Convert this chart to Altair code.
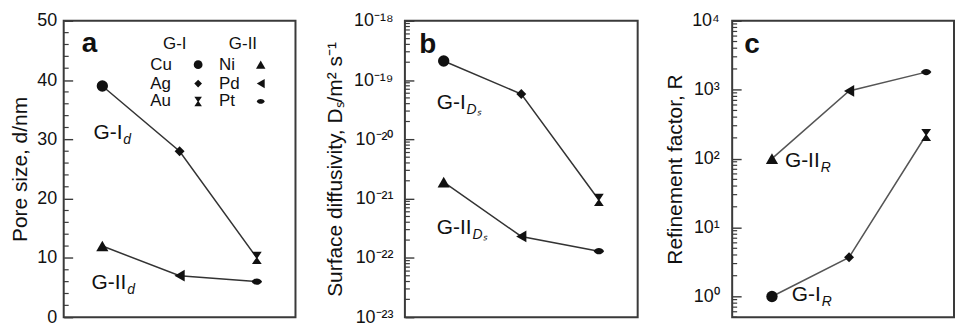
import altair as alt
import pandas as pd

# ---------------- data ----------------
positions = [1, 2, 3]
metals_I = ["Cu", "Ag", "Au"]
metals_II = ["Ni", "Pd", "Pt"]
pore_I = [39, 28, 10]
pore_II = [12, 7, 6]
diff_I = [2.1e-19, 5.8e-20, 9.5e-22]
diff_II = [1.9e-21, 2.3e-22, 1.3e-22]
ref_I = [1.0, 3.7, 220]
ref_II = [100, 960, 1800]

# ---------------- style ----------------
FONT = "Liberation Sans"
INK = "#111111"
FRAME = "#3a3a3a"
HOURGLASS = "M-0.8,-1L0.8,-1L0.12,0L0.8,1L-0.8,1L-0.12,0Z"
LENS = "M-1,0C-0.55,-0.8,0.55,-0.8,1,0C0.55,0.8,-0.55,0.8,-1,0Z"
SHAPES = {"Cu": "circle", "Ag": "diamond", "Au": HOURGLASS,
          "Ni": "triangle-up", "Pd": "triangle-left", "Pt": LENS}
SIZES = {"Cu": 130, "Ag": 100, "Au": 150, "Ni": 150, "Pd": 140, "Pt": 110}
LEGEND_SCALE = 0.6
PANEL_H = 298
MAJOR_LEN = 9

shape_domain = list(SHAPES.keys())
shape_range = list(SHAPES.values())


def sup(n):
    return str(n).translate(str.maketrans("-0123456789", "⁻⁰¹²³⁴⁵⁶⁷⁸⁹"))


def log_label_expr(exps):
    parts = [f"abs(log(datum.value)/LN10 - ({e})) < 0.01 ? '10{sup(e)}'" for e in exps]
    return " : ".join(parts) + " : ''"


def y_axis(title, values, label_pad, title_pad, label_expr=None):
    # the axis line sits MAJOR_LEN px inside the frame, so its outward ticks
    # reach exactly back to the frame: inward-looking major ticks
    kw = dict(values=values, ticks=True, tickSize=MAJOR_LEN, tickColor=FRAME, tickWidth=1.4,
              offset=-MAJOR_LEN, domain=False, grid=False,
              labelFont=FONT, labelFontSize=18, labelColor=INK, labelPadding=label_pad,
              title=title, titleFont=FONT, titleFontSize=21, titleFontWeight="normal",
              titleColor=INK, titlePadding=title_pad)
    if label_expr:
        kw["labelExpr"] = label_expr
    return alt.Axis(**kw)


def text(xs, ys, yax, x, y, t, **style):
    df = pd.DataFrame({"x": [x], "y": [y], "label": [t]})
    base = dict(font=FONT, color=INK, baseline="middle")
    base.update(style)
    return alt.Chart(df).mark_text(**base).encode(
        x=alt.X("x:Q", scale=xs, axis=None),
        y=alt.Y("y:Q", scale=ys, axis=yax),
        text="label:N")


def minor_ticks(vals, ys, yax):
    df = pd.DataFrame({"tickval": vals})
    return alt.Chart(df).mark_rule(color=FRAME, strokeWidth=1.2).encode(
        x=alt.value(0), x2=alt.value(5),
        y=alt.Y("tickval:Q", scale=ys, axis=yax))


def panel(vals_I, vals_II, ys, axis, minor, xdomain, width, line_color, annots):
    xs = alt.Scale(domain=xdomain, nice=False, zero=False)
    df = pd.DataFrame({
        "pos": positions * 2,
        "val": list(vals_I) + list(vals_II),
        "metal": metals_I + metals_II,
        "group": ["G-I"] * 3 + ["G-II"] * 3,
    })
    df["sz"] = df["metal"].map(SIZES)
    x = alt.X("pos:Q", scale=xs, axis=None)
    lines = alt.Chart(df).mark_line(color=line_color, strokeWidth=1.5).encode(
        x=x, y=alt.Y("val:Q", scale=ys, axis=axis), detail="group:N")
    pts = alt.Chart(df).mark_point(filled=True, color=INK, opacity=1).encode(
        x=x, y=alt.Y("val:Q", scale=ys, axis=axis),
        shape=alt.Shape("metal:N", scale=alt.Scale(domain=shape_domain, range=shape_range), legend=None),
        size=alt.Size("sz:Q", scale=None))
    layers = [lines, minor_ticks(minor, ys, axis), pts]
    for a in annots:
        layers.append(a(xs, ys, axis))
    return alt.layer(*layers).properties(width=width, height=PANEL_H)


def ann(x, y, t, **style):
    return lambda xs, ys, yax: text(xs, ys, yax, x, y, t, **style)


def legend_sym(x, y, metal):
    def f(xs, ys, yax):
        df = pd.DataFrame({"x": [x], "y": [y], "metal": [metal]})
        return alt.Chart(df).mark_point(filled=True, color=INK, opacity=1,
                                        size=SIZES[metal] * LEGEND_SCALE).encode(
            x=alt.X("x:Q", scale=xs, axis=None),
            y=alt.Y("y:Q", scale=ys, axis=yax),
            shape=alt.Shape("metal:N", scale=alt.Scale(domain=shape_domain, range=shape_range), legend=None))
    return f


MAIN = dict(fontSize=21, align="left")
SUB = dict(fontSize=14, fontStyle="italic", align="left", dy=7)
LETTER = dict(fontSize=28, fontWeight="bold", align="center")
LEG = dict(fontSize=17, align="left")
HEAD = dict(fontSize=17, align="center")

# ---------------- panel a ----------------
ys_a = alt.Scale(domain=[0, 50], nice=False, zero=False)
axis_a = y_axis("Pore size, d/nm", [0, 10, 20, 30, 40, 50], 7, 6)
minor_a = [v for v in range(2, 50, 2) if v % 10]
leg_rows = [42.6, 39.4, 36.4]
annots_a = [
    ann(0.835, 46.0, "a", **LETTER),
    ann(1.938, 46.0, "G-I", **HEAD),
    ann(2.82, 46.0, "G-II", **HEAD),
    ann(0.886, 31.0, "G-I", **MAIN), ann(0.886, 31.0, "d", dx=30, **SUB),
    ann(0.86, 5.7, "G-II", **MAIN), ann(0.86, 5.7, "d", dx=36, **SUB),
]
for m, yv in zip(metals_I, leg_rows):
    annots_a += [ann(1.62, yv, m, **LEG), legend_sym(2.24, yv, m)]
for m, yv in zip(metals_II, leg_rows):
    annots_a += [ann(2.51, yv, m, **LEG), legend_sym(3.05, yv, m)]
pa = panel(pore_I, pore_II, ys_a, axis_a, minor_a, [0.5, 3.5], 233, "#333333", annots_a)

# ---------------- panel b ----------------
exps_b = list(range(-23, -17))
ys_b = alt.Scale(type="log", domain=[1e-23, 1e-18], nice=False)
axis_b = y_axis("Surface diffusivity, Dₛ/m² s⁻¹", [10.0 ** e for e in exps_b], 12, 8,
                log_label_expr(exps_b))
minor_b = [m * 10.0 ** e for e in range(-23, -18) for m in range(2, 10)]
annots_b = [
    ann(0.795, 3.95e-19, "b", **LETTER),
    ann(0.91, 4.1e-20, "G-I", **MAIN), ann(0.91, 4.1e-20, "Dₛ", dx=30, **SUB),
    ann(0.91, 3.2e-22, "G-II", **MAIN), ann(0.91, 3.2e-22, "Dₛ", dx=36, **SUB),
]
pb = panel(diff_I, diff_II, ys_b, axis_b, minor_b, [0.5, 3.5], 234, "#333333", annots_b)

# ---------------- panel c ----------------
exps_c = list(range(0, 5))
ys_c = alt.Scale(type="log", domain=[0.5, 1e4], nice=False)
axis_c = y_axis("Refinement factor, R", [10.0 ** e for e in exps_c], 13, 6, log_label_expr(exps_c))
minor_c = [m * 10.0 ** e for e in range(-1, 4) for m in range(2, 10) if m * 10.0 ** e >= 0.5]
annots_c = [
    ann(0.742, 4500, "c", **LETTER),
    ann(1.168, 92, "G-II", **MAIN), ann(1.168, 92, "R", dx=36, **SUB),
    ann(1.258, 1.05, "G-I", **MAIN), ann(1.258, 1.05, "R", dx=30, **SUB),
]
pc = panel(ref_I, ref_II, ys_c, axis_c, minor_c, [0.484, 3.361], 223, "#555555", annots_c)


def spacer(w):
    return alt.Chart(pd.DataFrame({"s": [0]})).mark_point(opacity=0).encode(
        x=alt.value(0), y=alt.value(0)).properties(
        width=w, height=PANEL_H, view=alt.ViewBackground(stroke="transparent"))


chart = alt.hconcat(pa, spacer(30), pb, spacer(15), pc, spacing=40, bounds="flush").properties(
    padding={"left": 0, "top": 2, "right": 0, "bottom": 0}
).configure(font=FONT).configure_view(stroke=FRAME, strokeWidth=2)

chart.save("out.html", embed_options={"renderer": "svg", "actions": False})
